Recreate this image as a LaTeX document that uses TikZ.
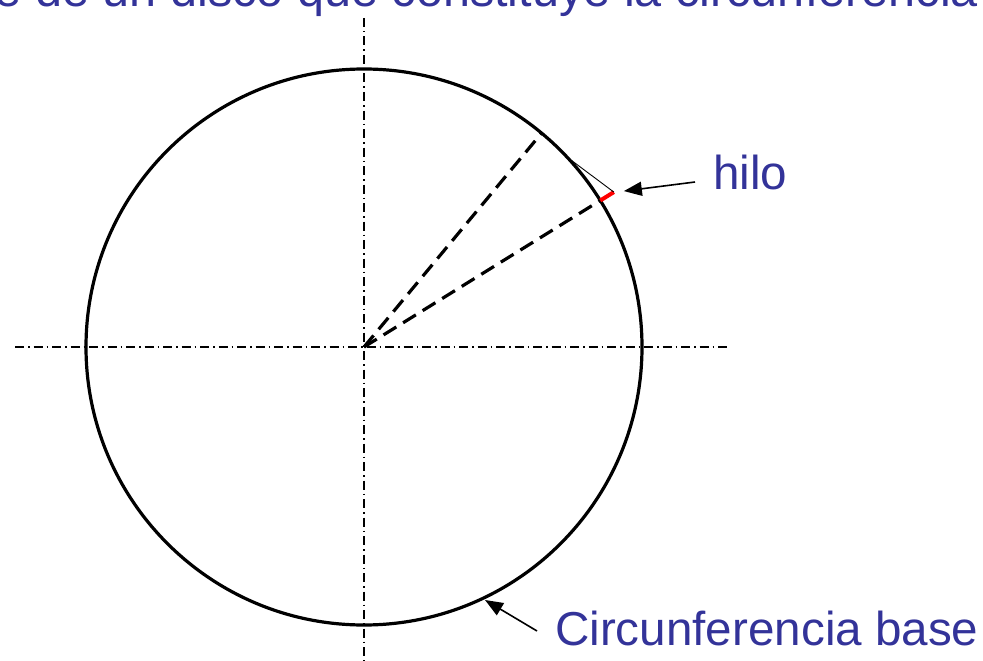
\documentclass[tikz,border=0pt]{standalone}
\usepackage{fontspec}
\setmainfont{Liberation Sans}
\usetikzlibrary{arrows.meta,calc}
\definecolor{txtblue}{HTML}{333399}
\begin{document}
\begin{tikzpicture}[x=1pt,y=-1pt,
  axisline/.style={line width=1.3pt,dash pattern=on 9pt off 4pt on 1.5pt off 4pt},
  radius line/.style={line width=3.2pt,dash pattern=on 15pt off 8pt},
  lbl/.style={text=txtblue,font=\fontsize{47.6}{50}\selectfont,inner sep=0pt},
  pointer/.style={line width=1.6pt,-{Triangle[length=18pt,width=14pt]}}]
\useasboundingbox (0,0) rectangle (983,661);
\coordinate (O) at (364,347);
% axes
\coordinate (xl) at (15,347);
\coordinate (xr) at (730,347);
\coordinate (yt) at (364,18);
\coordinate (yb) at (364,661);
\draw[axisline] (xl) -- (xr);
\draw[axisline] (yt) -- (yb);
% circle
\draw[line width=3.2pt] (O) circle[radius=278];
% radial dashed lines
\path (O) ++(-50.3:278) coordinate (A1);
\path (O) ++(-31.8:278) coordinate (A2);
\path (O) ++(-31.8:294) coordinate (R2);
\path (O) ++(-42:279) coordinate (T);
\draw[radius line] (O) -- (A1);
\draw[radius line] (O) -- (A2);
\draw[red,line width=4pt] (A2) -- (R2);
\draw[line width=0.9pt] (T) -- (R2);
% labels
\node[lbl,anchor=base west] (hilo) at (713,189) {hilo};
\node[lbl,anchor=base west] (cb) at (555,645) {Circunferencia base};
\node[lbl,anchor=base west,font=\fontsize{48.6}{50}\selectfont] (title) at (-5.5,7) {e de un disco que constituye la circunferencia b};
\coordinate (h0) at (695,182);
\coordinate (c0) at (537,631);
\coordinate (c1) at (485,600);
\draw[pointer] (h0) -- ($(R2)+(10,-1)$);
\draw[pointer] (c0) -- (c1);
\end{tikzpicture}
\end{document}
